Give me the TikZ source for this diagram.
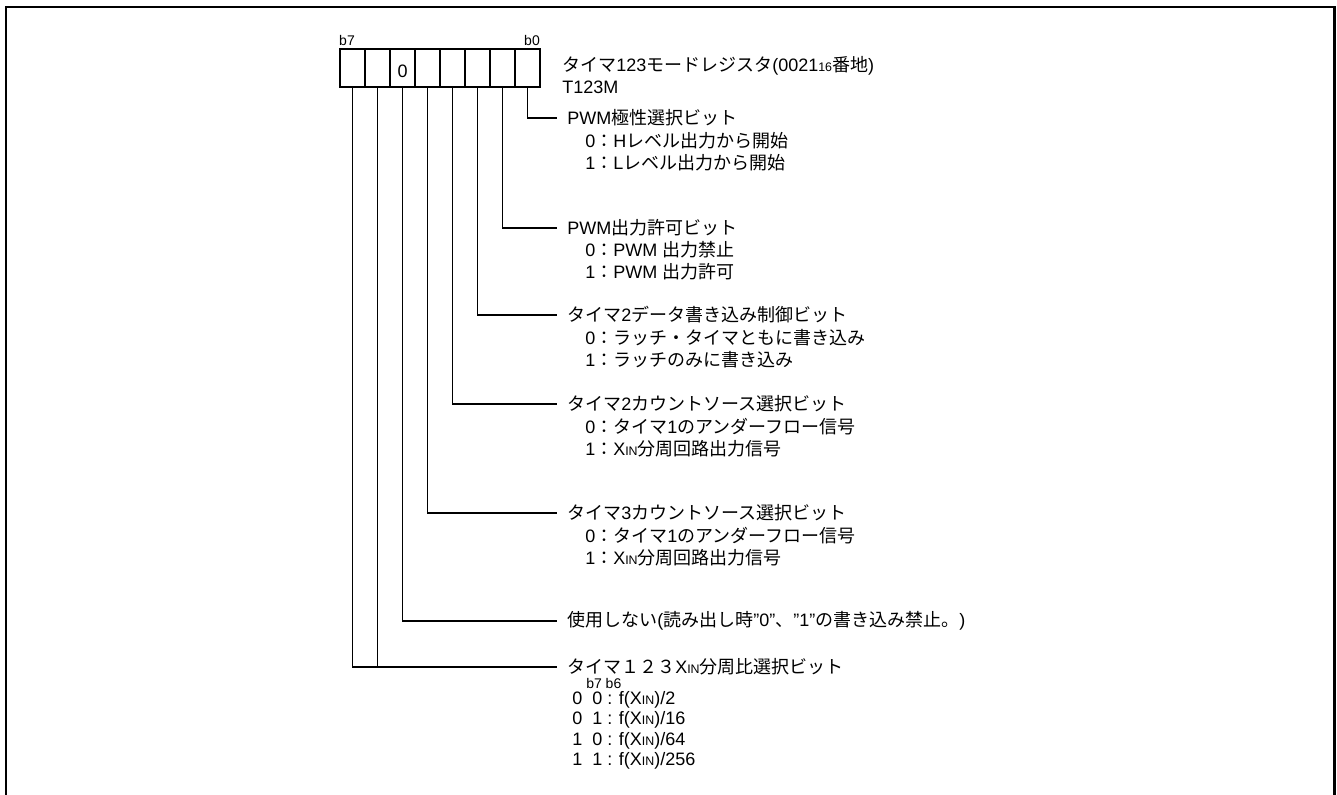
\documentclass[tikz,border=0pt]{standalone}
\usepackage{fontspec}
\setmainfont{Liberation Sans}
\newfontfamily\jpfont{Noto Sans CJK JP}
\newcommand\J[1]{{\jpfont #1}}
\newcommand\XIN{X{\fontsize{9.3}{9.3}\selectfont IN}}
\newcommand\dq{\symbol{34}}
\begin{document}
\begin{tikzpicture}[x=0.75pt,y=-0.75pt,
  cell/.style={draw, line width=1.1pt, minimum width=18.75pt, minimum height=28.5pt, inner sep=0pt, anchor=center},
  lab/.style={anchor=west, inner xsep=7.5pt, inner ysep=0pt, font=\fontsize{13.5}{15}\selectfont},
  sub/.style={anchor=west, inner sep=0pt, font=\fontsize{13.5}{15}\selectfont},
  hdr/.style={anchor=west, inner sep=0pt, font=\fontsize{13.5}{15}\selectfont},
  bitlab/.style={font=\fontsize{10.5}{11}\selectfont, inner sep=0pt},
  conn/.style={line width=0.9pt},
  frame/.style={line width=1.6pt}]
\useasboundingbox (0,0) rectangle (1337,794);
\clip (0,0) rectangle (1337,794);
\draw[frame] (6,7) rectangle (1334.5,830);
% register cells (c0 = b0 ... c7 = b7)
\foreach \i in {0,...,7} \node[cell] (c\i) at ({527.5-25*\i},68) {};
\node[font=\fontsize{13.5}{15}\selectfont, inner sep=0pt] (zero) at ([yshift=-2.25pt]c5.center) {0};
\node[bitlab] (lb7) at (347,40) {b7};
\node[bitlab] (lb0) at (532,40) {b0};
% header
\node[hdr] (title) at (562,66) {\J{タイマ}123\J{モードレジスタ}(0021{\fontsize{9.3}{9.3}\selectfont 16}\J{番地})};
\node[hdr] (tname) at (562,87) {T123M};
% b0
\node[lab] (l0) at (557,118) {PWM\J{極性選択ビット}};
\node[sub] (l0a) at (585,141) {0\J{：}H\J{レベル出力から開始}};
\node[sub] (l0b) at (585,163) {1\J{：}L\J{レベル出力から開始}};
% b1
\node[lab] (l1) at (557,228) {PWM\J{出力許可ビット}};
\node[sub] (l1a) at (585,250) {0\J{：}PWM \J{出力禁止}};
\node[sub] (l1b) at (585,272) {1\J{：}PWM \J{出力許可}};
% b2
\node[lab] (l2) at (557,315) {\J{タイマ}2\J{データ書き込み制御ビット}};
\node[sub] (l2a) at (585,338) {0\J{：ラッチ・タイマともに書き込み}};
\node[sub] (l2b) at (585,360) {1\J{：ラッチのみに書き込み}};
% b3
\node[lab] (l3) at (557,404) {\J{タイマ}2\J{カウントソース選択ビット}};
\node[sub] (l3a) at (585,427) {0\J{：タイマ}1\J{のアンダーフロー信号}};
\node[sub] (l3b) at (585,449) {1\J{：}\XIN\J{分周回路出力信号}};
% b4
\node[lab] (l4) at (557,513) {\J{タイマ}3\J{カウントソース選択ビット}};
\node[sub] (l4a) at (585,536) {0\J{：タイマ}1\J{のアンダーフロー信号}};
\node[sub] (l4b) at (585,558) {1\J{：}\XIN\J{分周回路出力信号}};
% b5
\node[lab] (l5) at (557,621) {\J{使用しない}(\J{読み出し時}\dq0\dq\J{、}\dq1\dq\J{の書き込み禁止。})};
% b7,b6
\node[lab] (l6) at (557,667) {\J{タイマ１２３}\XIN\J{分周比選択ビット}};
\node[bitlab, anchor=west] (l6h) at (586,683) {b7 b6};
\node[sub] (l6a) at (572,700) {0\ \ 0 : f(\XIN)/2};
\node[sub] (l6b) at (572,720) {0\ \ 1 : f(\XIN)/16};
\node[sub] (l6c) at (572,741) {1\ \ 0 : f(\XIN)/64};
\node[sub] (l6d) at (572,761) {1\ \ 1 : f(\XIN)/256};
% connectors
\draw[conn] (c0.south) |- (l0.west);
\draw[conn] (c1.south) |- (l1.west);
\draw[conn] (c2.south) |- (l2.west);
\draw[conn] (c3.south) |- (l3.west);
\draw[conn] (c4.south) |- (l4.west);
\draw[conn] (c5.south) |- (l5.west);
\draw[conn] (c6.south) |- (l6.west);
\draw[conn] (c7.south) |- (l6.west);
\end{tikzpicture}
\end{document}
